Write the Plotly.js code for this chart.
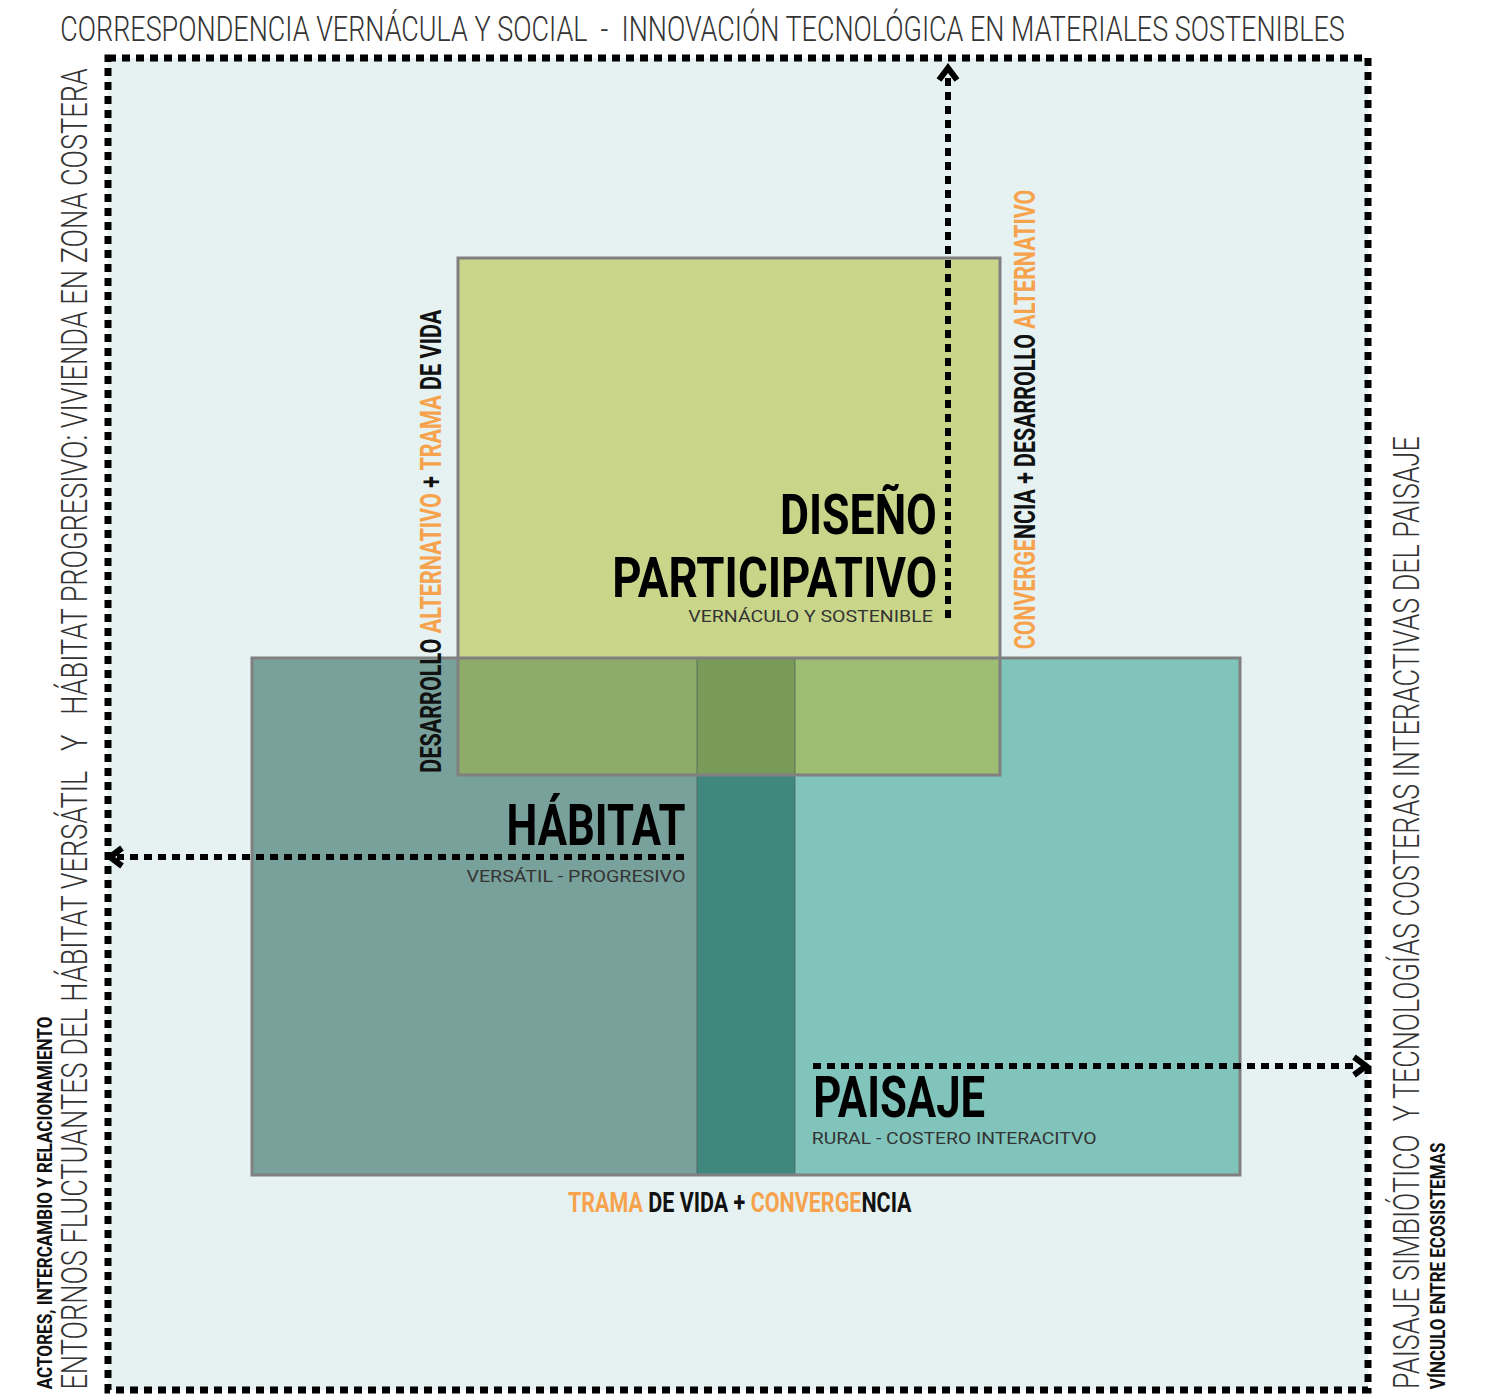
<!DOCTYPE html>
<html>
<head>
<meta charset="utf-8">
<script src="https://cdn.plot.ly/plotly-3.0.1.min.js"></script>
<style>html,body{margin:0;padding:0;background:#fff;}#chart{width:1485px;height:1394px;}</style>
</head>
<body>
<div id="chart"></div>
<script>
// ---- Diagram data (diagram units on a 1485 x 1394 grid) ----
const regionNames = ['Hábitat', 'Trama', 'Paisaje', 'Diseño', 'Hábitat∩Diseño', 'Trama∩Diseño', 'Paisaje∩Diseño'];
const regionX0 = [252, 697, 795, 458, 458, 697, 795];
const regionX1 = [697, 795, 1240, 1000, 697, 795, 1000];
const regionY0 = [658, 658, 658, 258, 658, 658, 658];
const regionY1 = [1175, 1175, 1175, 658, 775, 775, 775];
const regionColors = ['#78a19b', '#40887e', '#80c4bb', '#c9d68a', '#8fab6a', '#789b5a', '#9dbd72'];

const outlineX0 = [252, 458];
const outlineX1 = [1240, 1000];
const outlineY0 = [658, 258];
const outlineY1 = [1175, 775];

const frameX = [108, 1368];
const frameY = [58, 1390];

// arrows: tail (x0,y0) -> head (x1,y1)
const arrowNames = ['up', 'left', 'right'];
const arrowX0 = [948, 684, 813];
const arrowY0 = [618, 857, 1066];
const arrowX1 = [948, 110, 1366];
const arrowY1 = [68, 857, 1066];

// ---- Text labels ----
const ORANGE = '#f7a24c';
const o = t => '<span style="color:' + ORANGE + '">' + t + '</span>';
const labelTexts = [
  'CORRESPONDENCIA VERNÁCULA Y SOCIAL  -  INNOVACIÓN TECNOLÓGICA EN MATERIALES SOSTENIBLES',
  'ENTORNOS FLUCTUANTES DEL HÁBITAT VERSÁTIL   Y   HÁBITAT PROGRESIVO: VIVIENDA EN ZONA COSTERA',
  'ACTORES, INTERCAMBIO Y RELACIONAMIENTO',
  'PAISAJE SIMBIÓTICO  Y TECNOLOGÍAS COSTERAS INTERACTIVAS DEL PAISAJE',
  'VÍNCULO ENTRE ECOSISTEMAS',
  'DESARROLLO ' + o('ALTERNATIVO') + ' + ' + o('TRAMA') + ' DE VIDA',
  o('CONVERGE') + 'NCIA + DESARROLLO ' + o('ALTERNATIVO'),
  o('TRAMA') + ' DE VIDA + ' + o('CONVERGE') + 'NCIA',
  'DISEÑO',
  'PARTICIPATIVO',
  'VERNÁCULO Y SOSTENIBLE',
  'HÁBITAT',
  'VERSÁTIL - PROGRESIVO',
  'PAISAJE',
  'RURAL - COSTERO INTERACITVO'
];

const COND = 'Roboto, DejaVu Sans, sans-serif';
// style per label: [x, y, angle, size, weight, color, length along text]
const labelStyle = [
  [702, 28, 0, 36, 300, '#333333', 1285],
  [74, 729, -90, 36, 300, '#333333', 1322],
  [45, 1203, -90, 20, 'bold', '#111111', 373],
  [1406, 913, -90, 36, 300, '#333333', 953],
  [1438, 1266, -90, 20, 'bold', '#111111', 247],
  [431, 541, -90, 29, 'bold', '#111111', 463],
  [1025, 420, -90, 29, 'bold', '#111111', 460],
  [740, 1202, 0, 28, 'bold', '#111111', 344],
  [858, 515, 0, 56, 'bold', '#000000', 157],
  [774, 578, 0, 56, 'bold', '#000000', 325],
  [810, 616, 0, 17, 'normal', '#333333', 245],
  [596, 825, 0, 58, 'bold', '#000000', 179],
  [576, 876, 0, 17, 'normal', '#333333', 219],
  [899, 1097, 0, 58, 'bold', '#000000', 172],
  [954, 1138, 0, 17, 'normal', '#333333', 285]
];

const shapes = [];
shapes.push({type: 'rect', xref: 'x', yref: 'y', x0: frameX[0], x1: frameX[1], y0: frameY[0], y1: frameY[1],
  fillcolor: '#e6f2f2', line: {width: 0}, layer: 'below'});
for (let i = 0; i < regionNames.length; i++) {
  shapes.push({type: 'rect', xref: 'x', yref: 'y', x0: regionX0[i], x1: regionX1[i], y0: regionY0[i], y1: regionY1[i],
    fillcolor: regionColors[i], line: {width: 0}, layer: 'below'});
}
[697, 795].forEach(xv => shapes.push({type: 'line', xref: 'x', yref: 'y', x0: xv, x1: xv, y0: 658, y1: 1175,
  line: {color: 'rgba(70,90,85,0.45)', width: 1.5}, layer: 'below'}));
for (let i = 0; i < outlineX0.length; i++) {
  shapes.push({type: 'rect', xref: 'x', yref: 'y', x0: outlineX0[i], x1: outlineX1[i], y0: outlineY0[i], y1: outlineY1[i],
    fillcolor: 'rgba(0,0,0,0)', line: {color: '#808080', width: 3}, layer: 'below'});
}
shapes.push({type: 'rect', xref: 'x', yref: 'y', x0: frameX[0], x1: frameX[1], y0: frameY[0], y1: frameY[1],
  fillcolor: 'rgba(0,0,0,0)', line: {color: '#000', width: 7, dash: '8px,6px'}});
for (let i = 0; i < arrowNames.length; i++) {
  const x0 = arrowX0[i], y0 = arrowY0[i], x1 = arrowX1[i], y1 = arrowY1[i];
  const dx = Math.sign(x1 - x0), dy = Math.sign(y1 - y0);
  shapes.push({type: 'line', xref: 'x', yref: 'y', x0: x0, y0: y0, x1: x1 - dx * 7, y1: y1 - dy * 7,
    line: {color: '#000', width: 6, dash: '8px,6px'}});
  let p;
  if (dx === 0) {
    p = 'M' + (x1 - 9) + ',' + (y1 - dy * 12) + ' L' + x1 + ',' + y1 + ' L' + (x1 + 9) + ',' + (y1 - dy * 12);
  } else {
    p = 'M' + (x1 - dx * 12) + ',' + (y1 - 9) + ' L' + x1 + ',' + y1 + ' L' + (x1 - dx * 12) + ',' + (y1 + 9);
  }
  shapes.push({type: 'path', xref: 'x', yref: 'y', path: p, line: {color: '#000', width: 6}});
}

const annotations = labelTexts.map((t, i) => {
  const s = labelStyle[i];
  return {text: t, x: s[0], y: s[1], xref: 'x', yref: 'y', showarrow: false, textangle: s[2],
    xanchor: 'center', yanchor: 'middle',
    font: {family: COND, size: s[3], weight: s[4], color: s[5]}};
});

const layout = {
  width: 1485, height: 1394,
  margin: {l: 0, r: 0, t: 0, b: 0, pad: 0},
  paper_bgcolor: '#ffffff', plot_bgcolor: '#ffffff',
  showlegend: false,
  xaxis: {range: [0, 1485], visible: false, fixedrange: true},
  yaxis: {range: [1394, 0], visible: false, fixedrange: true},
  shapes: shapes,
  annotations: annotations
};

const data = [{type: 'scatter', mode: 'markers', x: regionX0, y: regionY0, marker: {opacity: 0}, hoverinfo: 'skip'}];

// condense each label horizontally to the reference's length (the source uses a condensed typeface)
function condense(gd) {
  const groups = gd.querySelectorAll('g.annotation');
  groups.forEach(g => {
    const idx = +g.getAttribute('data-index');
    const el = g.querySelector('text.annotation-text');
    if (!el || isNaN(idx)) return;
    const target = labelStyle[idx][6];
    const bb = el.getBBox();
    if (!bb.width) return;
    const f = target / bb.width;
    const cx = bb.x + bb.width / 2;
    const prev = el.getAttribute('transform') || '';
    el.setAttribute('transform', prev + ' translate(' + cx + ',0) scale(' + f + ',1) translate(' + (-cx) + ',0)');
  });
}

Plotly.newPlot('chart', data, layout, {staticPlot: true, displayModeBar: false}).then(gd => condense(gd));
</script>
</body>
</html>
